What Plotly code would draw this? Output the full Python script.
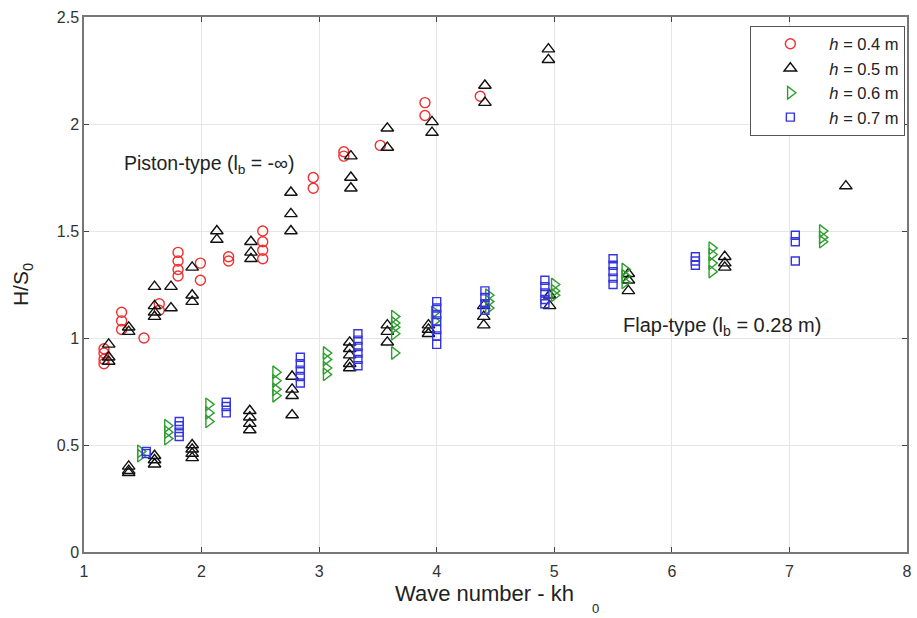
import plotly.graph_objects as go

# h = 0.4 m (red circles)
x_h04 = [1.17, 1.17, 1.17, 1.17, 1.32, 1.32, 1.32, 1.51, 1.64, 1.64,
         1.80, 1.80, 1.80, 1.80, 1.99, 1.99, 2.23, 2.23, 2.52, 2.52, 2.52, 2.52,
         2.95, 2.95, 3.21, 3.21, 3.52, 3.90, 3.90, 4.37]
y_h04 = [0.88, 0.90, 0.93, 0.95, 1.04, 1.08, 1.12, 1.00, 1.13, 1.16,
         1.29, 1.32, 1.36, 1.40, 1.27, 1.35, 1.36, 1.38, 1.37, 1.41, 1.45, 1.50,
         1.70, 1.75, 1.85, 1.87, 1.90, 2.04, 2.10, 2.13]

# h = 0.5 m (black triangles) - piston and flap
x_h05 = [1.21, 1.21, 1.21, 1.38, 1.38, 1.60, 1.60, 1.60, 1.60, 1.74, 1.74,
         1.92, 1.92, 1.92, 2.13, 2.13, 2.42, 2.42, 2.42, 2.76, 2.76, 2.76,
         3.27, 3.27, 3.27, 3.58, 3.58, 3.96, 3.96, 4.41, 4.41, 4.95, 4.95, 7.48,
         1.38, 1.38, 1.38, 1.60, 1.60, 1.60, 1.92, 1.92, 1.92, 1.92,
         2.41, 2.41, 2.41, 2.41, 2.77, 2.77, 2.77, 2.77,
         3.26, 3.26, 3.26, 3.26, 3.26, 3.58, 3.58, 3.58, 3.93, 3.93, 3.93,
         4.40, 4.40, 4.40, 4.96, 4.96, 5.63, 5.63, 5.63, 6.45, 6.45, 6.45]
y_h05 = [0.89, 0.91, 0.97, 1.03, 1.05, 1.10, 1.12, 1.15, 1.24, 1.14, 1.24,
         1.17, 1.20, 1.33, 1.46, 1.50, 1.37, 1.40, 1.45, 1.50, 1.58, 1.68,
         1.70, 1.75, 1.85, 1.89, 1.98, 1.96, 2.01, 2.10, 2.18, 2.30, 2.35, 1.71,
         0.37, 0.38, 0.40, 0.41, 0.43, 0.45, 0.44, 0.46, 0.48, 0.50,
         0.57, 0.60, 0.63, 0.66, 0.64, 0.73, 0.76, 0.82,
         0.86, 0.88, 0.92, 0.95, 0.98, 0.98, 1.03, 1.06, 1.02, 1.04, 1.06,
         1.06, 1.10, 1.15, 1.15, 1.20, 1.22, 1.27, 1.30, 1.33, 1.35, 1.38]

# h = 0.6 m (green right triangles)
x_h06 = [1.48, 1.48, 1.71, 1.71, 1.71, 2.06, 2.06, 2.06, 2.63, 2.63, 2.63, 2.63,
         3.06, 3.06, 3.06, 3.06, 3.64, 3.64, 3.64, 3.64, 3.64, 3.98, 3.98,
         4.44, 4.44, 4.44, 5.00, 5.00, 5.00, 5.60, 5.60, 5.60,
         6.34, 6.34, 6.34, 6.34, 7.28, 7.28, 7.28]
y_h06 = [0.45, 0.47, 0.53, 0.56, 0.59, 0.61, 0.65, 0.69, 0.73, 0.76, 0.80, 0.84,
         0.83, 0.86, 0.90, 0.93, 0.93, 1.02, 1.05, 1.07, 1.10, 1.08, 1.12,
         1.14, 1.17, 1.20, 1.20, 1.22, 1.25, 1.26, 1.29, 1.32,
         1.31, 1.35, 1.39, 1.42, 1.45, 1.47, 1.50]

# h = 0.7 m (blue squares)
x_h07 = [1.53, 1.53, 1.81, 1.81, 1.81, 1.81, 2.21, 2.21, 2.21,
         2.84, 2.84, 2.84, 2.84, 2.84, 3.33, 3.33, 3.33, 3.33, 3.33, 3.33,
         4.00, 4.00, 4.00, 4.00, 4.00, 4.00, 4.00, 4.41, 4.41, 4.41, 4.41,
         4.92, 4.92, 4.92, 4.92, 4.92, 5.50, 5.50, 5.50, 5.50, 5.50,
         6.20, 6.20, 6.20, 7.05, 7.05, 7.05]
y_h07 = [0.46, 0.47, 0.54, 0.56, 0.59, 0.61, 0.65, 0.68, 0.70,
         0.79, 0.82, 0.85, 0.88, 0.91, 0.87, 0.90, 0.93, 0.96, 0.99, 1.02,
         0.97, 1.01, 1.04, 1.08, 1.11, 1.14, 1.17, 1.13, 1.16, 1.19, 1.22,
         1.16, 1.18, 1.21, 1.24, 1.27, 1.25, 1.28, 1.31, 1.34, 1.37,
         1.34, 1.36, 1.38, 1.36, 1.45, 1.48]

x_ticks = [1, 2, 3, 4, 5, 6, 7, 8]
y_ticks = [0, 0.5, 1, 1.5, 2, 2.5]
y_tick_text = ["0", "0.5", "1", "1.5", "2", "2.5"]

FONT = "Liberation Sans, Arial, sans-serif"

fig = go.Figure()
series = [
    (x_h04, y_h04, "<i>h</i> = 0.4 m", "circle-open", "#f03030", 10),
    (x_h05, y_h05, "<i>h</i> = 0.5 m", "triangle-up-open", "#111111", 11),
    (x_h06, y_h06, "<i>h</i> = 0.6 m", "triangle-right-open", "#2e9e2e", 11),
    (x_h07, y_h07, "<i>h</i> = 0.7 m", "square-open", "#3535e0", 8),
]
for xs, ys, name, sym, col, sz in series:
    fig.add_trace(go.Scatter(
        x=xs, y=ys, mode="markers", name=name,
        marker=dict(symbol=sym, size=sz, color=col, line=dict(width=1.4, color=col)),
    ))

fig.add_annotation(x=1.32, y=1.81, xref="x", yref="y", xanchor="left", yanchor="middle",
                   text="Piston-type (l<sub>b</sub> = -∞)", showarrow=False,
                   font=dict(family=FONT, size=19.5, color="#222"))
fig.add_annotation(x=5.57, y=1.055, xref="x", yref="y", xanchor="left", yanchor="middle",
                   text="Flap-type (l<sub>b</sub> = 0.28 m)", showarrow=False,
                   font=dict(family=FONT, size=20, color="#222"))
# x-axis title with detached subscript
fig.add_annotation(x=0.487, y=-0.0785, xref="paper", yref="paper", xanchor="center", yanchor="middle",
                   text="Wave number - kh", showarrow=False,
                   font=dict(family=FONT, size=22, color="#222"))
fig.add_annotation(x=0.621, y=-0.105, xref="paper", yref="paper", xanchor="center", yanchor="middle",
                   text="0", showarrow=False,
                   font=dict(family=FONT, size=13, color="#222"))

fig.update_layout(
    width=917, height=618,
    margin=dict(l=84, r=5, t=17, b=66),
    paper_bgcolor="white", plot_bgcolor="white",
    font=dict(family=FONT, size=16, color="#333"),
    showlegend=True,
    legend=dict(x=0.998, y=0.984, xanchor="right", yanchor="top",
                bordercolor="#555", borderwidth=1, bgcolor="white",
                font=dict(family=FONT, size=16.5, color="#222"),
                itemwidth=68, tracegroupgap=0),
    xaxis=dict(range=[1, 8], tickvals=x_ticks, ticks="inside", ticklen=5,
               showline=True, linecolor="#777", linewidth=1.5, mirror="ticks",
               showgrid=True, gridcolor="#e6e6e6", gridwidth=1, zeroline=False,
               ticklabelstandoff=4,
               tickfont=dict(size=16, color="#333")),
    yaxis=dict(range=[0, 2.5], tickvals=y_ticks, ticktext=y_tick_text, ticks="inside", ticklen=5,
               showline=True, linecolor="#777", linewidth=1.5, mirror="ticks",
               showgrid=True, gridcolor="#e6e6e6", gridwidth=1, zeroline=False,
               title=dict(text="H/S<sub>0</sub>", font=dict(size=21, color="#222"), standoff=22),
               tickfont=dict(size=16, color="#333")),
)

fig.write_html("out.html")
